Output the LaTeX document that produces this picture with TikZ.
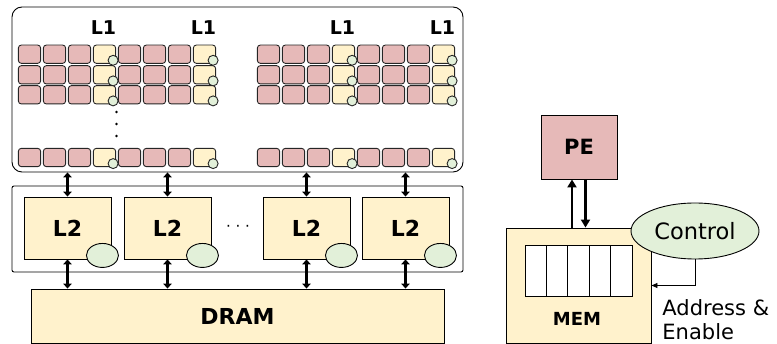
\documentclass[tikz,border=0pt]{standalone}
\usepackage{fontspec}
\setmainfont{DejaVu Sans}
\usetikzlibrary{arrows.meta,positioning,shapes.geometric,calc}

\definecolor{pecol}{RGB}{230,185,184}
\definecolor{memcol}{RGB}{255,242,204}
\definecolor{ctlcol}{RGB}{226,240,217}

\begin{document}
\begin{tikzpicture}[x=1pt, y=-1pt,
    line width=0.9pt,
    petile/.style={draw=black!85, rounded corners=3pt, fill=pecol, minimum width=22.3pt, minimum height=18.3pt, inner sep=0pt},
    memtile/.style={petile, fill=memcol},
    ctldot/.style={draw=black!85, circle, fill=ctlcol, minimum size=10pt, inner sep=0pt},
    lbl/.style={font=\fontsize{#1}{#1}\selectfont\bfseries, inner sep=0pt},
    bus/.style={line width=3pt, {Triangle[width=8.5pt,length=5pt]}-{Triangle[width=8.5pt,length=5pt]}},
    data/.style={line width=2.6pt, -{Triangle[width=9pt,length=8pt]}},
    l2box/.style={draw, fill=memcol, minimum width=87pt, minimum height=62pt, lbl=22},
    l2ctl/.style={draw, ellipse, fill=ctlcol, minimum width=32pt, minimum height=24pt, inner sep=0pt},
    cell/.style={draw, fill=white, minimum width=21.4pt, minimum height=51pt, inner sep=0pt}
  ]
  \useasboundingbox (0,0) rectangle (777,344);

  % L1 array
  \node[draw, rounded corners=10pt, minimum width=451pt, minimum height=165pt] (l1box) at (237.5,89.5) {};
  \foreach \r/\y in {1/54.2,2/74.8,3/94.8,4/157.5}
    \foreach \g/\xa in {a/29.5,b/268.5}{
      \foreach \k in {0,1,2,4,5,6}
        \node[petile] (t\r\g\k) at (\xa+25*\k,\y) {};
      \foreach \k in {3,7}{
        \node[memtile] (t\r\g\k) at (\xa+25*\k,\y) {};
        \node[ctldot] at ($(t\r\g\k.south east)+(-3,-3.5)$) {};
      }
    }
  \foreach \g/\k in {a/3,a/7,b/3,b/7}
    \node[lbl=19, above=10pt of t1\g\k, xshift=-1pt] {L1};
  \foreach \y in {112,124,136}
    \fill (116.5,\y) circle (1.3pt);

  % L2 level
  \node[draw, rounded corners=2pt, minimum width=451pt, minimum height=86pt] (l2row) at (237.5,229) {};
  \node[l2box] (l2a) at (67.5,228) {L2};
  \node[l2box] (l2b) at (167.5,228) {L2};
  \node[l2box] (l2c) at (306.5,228) {L2};
  \node[l2box] (l2d) at (405.5,228) {L2};
  \node[font=\fontsize{15}{15}\selectfont] (gap) at (238,228) {· · ·};
  \foreach \n in {l2a,l2b,l2c,l2d}
    \node[l2ctl] at ($(\n.south east)+(-9,-4)$) {};

  \node[draw, fill=memcol, minimum width=413pt, minimum height=54pt, lbl=22] (dram) at (237.5,316) {DRAM};

  \foreach \n in {l2a,l2b,l2c,l2d}{
    \draw[bus] (\n.north) -- (\n.north |- l1box.south);
    \draw[bus] (\n.south) -- (\n.south |- dram.north);
  }

  % PE with its memory
  \node[draw, fill=pecol, minimum width=76pt, minimum height=64pt, lbl=21] (pe) at (579,147) {PE};
  \node[draw, fill=memcol, minimum width=145pt, minimum height=115pt] (mem) at (578.5,285.5) {};
  \foreach \i in {1,...,5}
    \node[cell] (c\i) at (514.3+21.4*\i,270.5) {};
  \node[lbl=18] (memlbl) at (577,319) {MEM};

  \draw[data] ([xshift=-6.5pt]mem.north) -- ([xshift=-6.5pt]mem.north |- pe.south);
  \draw[data] ([xshift=6.5pt]pe.south) -- ([xshift=6.5pt]pe.south |- mem.north);

  \node[draw, ellipse, fill=ctlcol, minimum width=128pt, minimum height=56pt, inner sep=0pt, font=\fontsize{22.5}{22.5}\selectfont] (ctl) at (695,231) {Control};
  \draw[-{Triangle[width=5pt,length=6pt]}] (ctl.south) |- (mem.east);
  \node[align=left, anchor=north west, inner sep=0pt, font=\fontsize{21}{24}\selectfont] (addr) at (662,299) {Address \&\\Enable};
\end{tikzpicture}
\end{document}
